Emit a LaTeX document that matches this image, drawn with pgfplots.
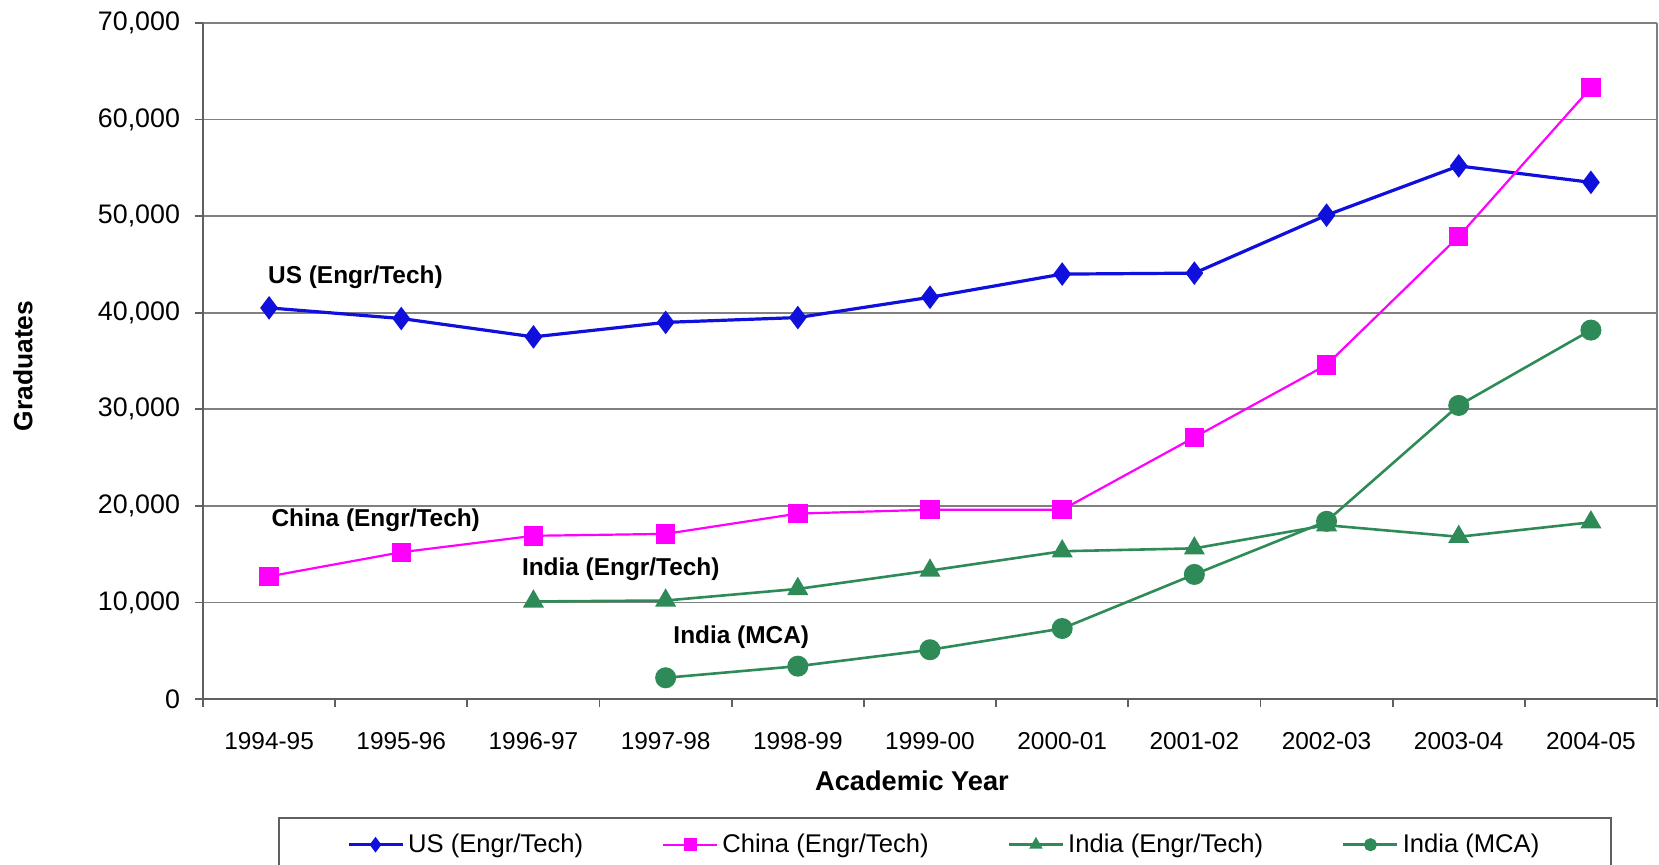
\documentclass[border=0pt]{standalone}
\usepackage{pgfplots}
\pgfplotsset{compat=1.18}
\usepackage{fontspec}
\setmainfont{Liberation Sans}
\definecolor{usblue}{RGB}{16,16,220}
\definecolor{chmag}{RGB}{255,0,255}
\definecolor{ingreen}{RGB}{46,139,87}
\definecolor{gridgray}{RGB}{128,128,128}
\definecolor{axgray}{RGB}{96,96,96}
\begin{document}
\begin{tikzpicture}
\useasboundingbox (-101.5pt,-82.5pt) rectangle (728pt,349.5pt);
\begin{axis}[
  scale only axis, width=727pt, height=338pt,
  at={(0,0)}, anchor=south west,
  xmin=-0.5, xmax=10.5, ymin=0, ymax=70000,
  xtick={0,...,10},
  xticklabels={1994-95,1995-96,1996-97,1997-98,1998-99,1999-00,2000-01,2001-02,2002-03,2003-04,2004-05},
  minor xtick={-0.5,0.5,...,10.5},
  major x tick style={draw=none},
  ytick={0,10000,...,70000},
  tick align=outside,
  tick style={axgray, line width=0.9pt},
  minor tick length=4pt, major tick length=4pt,
  x tick label style={font=\fontsize{12.2}{14}\selectfont, yshift=-9pt},
  y tick label style={font=\fontsize{13.4}{15}\selectfont, xshift=-4pt},
  /pgf/number format/.cd, assume math mode=true, 1000 sep={,},
  /pgfplots/.cd,
  scaled y ticks=false,
  ymajorgrids, grid style={gridgray, line width=0.8pt},
  axis x line*=bottom, axis y line*=left,
  axis line style={axgray, line width=1.1pt},
  xlabel={\bfseries Academic Year},
  xlabel style={at={(axis description cs:0.4876,-0.121)}, anchor=center, font=\fontsize{13.6}{16}\selectfont},
  ylabel={\bfseries Graduates},
  ylabel style={at={(axis description cs:-0.1238,0.4926)}, anchor=center, font=\fontsize{13.2}{16}\selectfont},
  legend columns=4,
  legend style={at={(axis description cs:0.0516,-0.1746)}, anchor=north west,
    draw=axgray, line width=0.9pt, inner xsep=34pt, inner ysep=6pt,
    font=\fontsize{12.8}{15}\selectfont,
    /tikz/every even column/.append style={column sep=37.5pt}},
  legend image code/.code={\draw[#1, mark size=2.6pt, mark repeat=2, mark phase=2] plot coordinates {(0pt,0pt) (13.5pt,0pt) (27pt,0pt)};},
  clip=false,
]
\draw[gridgray, line width=0.8pt] (axis cs:10.5,0) -- (axis cs:10.5,70000);
\addplot[usblue, line width=1.6pt, mark=diamond*, mark size=4.6pt, mark options={solid, fill=usblue}] coordinates {
(0,40500) (1,39400) (2,37500) (3,39000) (4,39500) (5,41600) (6,44000) (7,44100) (8,50100) (9,55200) (10,53500)};
\addlegendentry{US (Engr/Tech)}
\addplot[chmag, line width=1.1pt, mark=square*, mark size=4.3pt, mark options={solid, fill=chmag}] coordinates {
(0,12700) (1,15200) (2,16900) (3,17100) (4,19200) (5,19600) (6,19600) (7,27100) (8,34600) (9,47900) (10,63300)};
\addlegendentry{China (Engr/Tech)}
\addplot[ingreen, line width=1.3pt, mark=triangle*, mark size=4.8pt, mark options={solid, fill=ingreen}] coordinates {
(2,10100) (3,10200) (4,11400) (5,13300) (6,15300) (7,15600) (8,18000) (9,16800) (10,18300)};
\addlegendentry{India (Engr/Tech)}
\addplot[ingreen, line width=1.3pt, mark=*, mark size=4.6pt, mark options={solid, fill=ingreen}] coordinates {
(3,2200) (4,3400) (5,5100) (6,7300) (7,12900) (8,18400) (9,30400) (10,38200)};
\addlegendentry{India (MCA)}
\node[anchor=west, font=\bfseries\fontsize{12.2}{14}\selectfont] at (axis cs:-0.06,43700) {US (Engr/Tech)};
\node[anchor=west, font=\bfseries\fontsize{12.2}{14}\selectfont] at (axis cs:-0.035,18500) {China (Engr/Tech)};
\node[anchor=west, font=\bfseries\fontsize{12.2}{14}\selectfont] at (axis cs:1.86,13460) {India (Engr/Tech)};
\node[anchor=west, font=\bfseries\fontsize{12.2}{14}\selectfont] at (axis cs:3.006,6400) {India (MCA)};
\end{axis}
\end{tikzpicture}
\end{document}
